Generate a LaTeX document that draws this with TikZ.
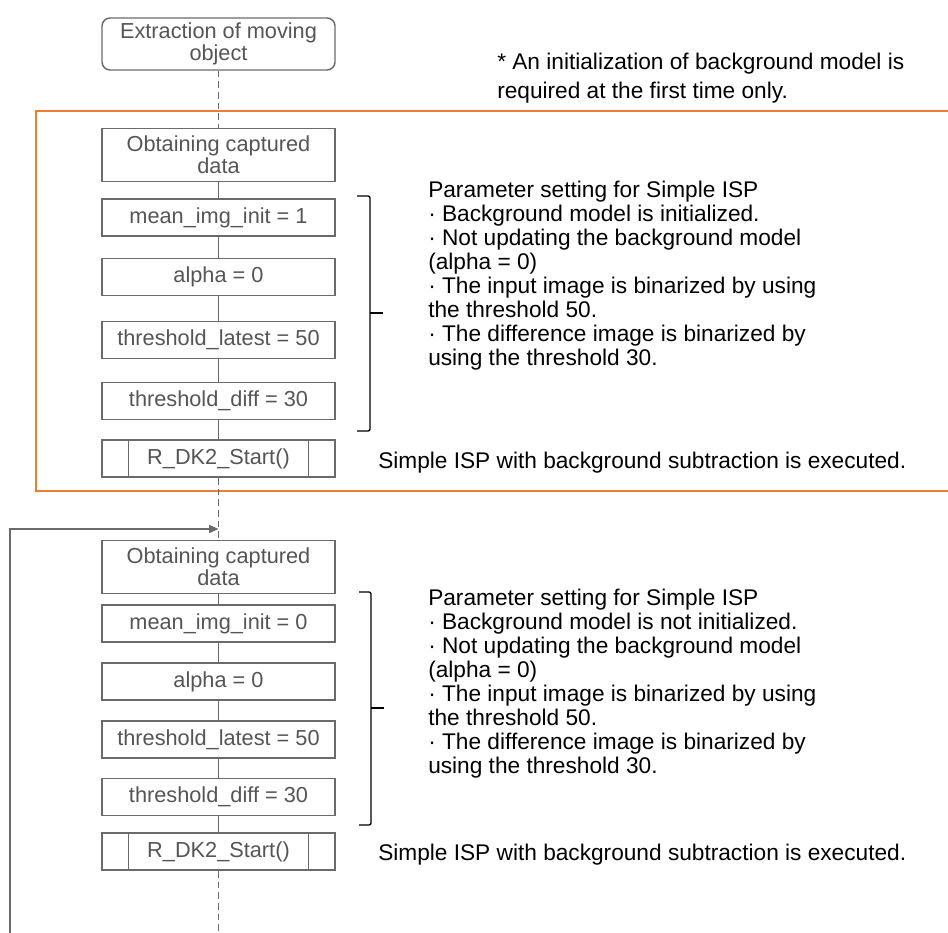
\documentclass[tikz,border=0pt]{standalone}
\usepackage{fontspec}
\setmainfont{Liberation Sans}
\usetikzlibrary{arrows.meta}
\definecolor{boxgray}{HTML}{6A6A6A}
\definecolor{txtgray}{HTML}{555555}
\definecolor{orangeline}{HTML}{ED7D31}
\tikzset{
  flowbox/.style={draw=boxgray, line width=1.1pt, fill=white, minimum width=174.75pt,
    minimum height=28pt, inner sep=0pt, text=txtgray,
    font=\fontsize{16.3}{16.5}\selectfont, align=center},
  twobox/.style={flowbox, minimum height=40pt},
  startbox/.style={flowbox, minimum height=39pt, rounded corners=6pt},
  flowline/.style={draw=boxgray, line width=1pt},
  dashline/.style={flowline, dash pattern=on 5pt off 3pt},
  loopline/.style={flowline, -{Triangle[length=7pt,width=6pt]}},
  bracketline/.style={draw=black, line width=1pt, rounded corners=1.5pt},
  frame/.style={draw=orangeline, line width=1.6pt},
  notetext/.style={anchor=north west, inner sep=0pt, align=left,
    font=\fontsize{17}{18}\selectfont, text=black},
  headnote/.style={notetext, font=\fontsize{17}{21.5}\selectfont}
}
\begin{document}
\begin{tikzpicture}[x=0.75pt,y=-0.75pt]
\useasboundingbox (0,0) rectangle (948,932);
\clip (0,0) rectangle (948,932);
\fill[white] (0,0) rectangle (948,932);

% orange frame (right side beyond the picture)
\draw[frame] (36,111) rectangle (990,491);

% first section
\node[startbox] (top) at (218.5,44) {Extraction of moving\\object};
\node[twobox] (obA) at (218.5,155) {Obtaining captured\\data};
\node[flowbox] (mA) at (218.5,217.5) {mean\_img\_init = 1};
\node[flowbox] (aA) at (218.5,277) {alpha = 0};
\node[flowbox] (tlA) at (218.5,340) {threshold\_latest = 50};
\node[flowbox] (tdA) at (218.5,401) {threshold\_diff = 30};
\node[flowbox] (rA) at (218.5,458.5) {R\_DK2\_Start()};
\draw[flowline] ([xshift=20.25pt]rA.north west) -- ([xshift=20.25pt]rA.south west);
\draw[flowline] ([xshift=-20.25pt]rA.north east) -- ([xshift=-20.25pt]rA.south east);

% second section
\node[twobox] (obB) at (218.5,567) {Obtaining captured\\data};
\node[flowbox] (mB) at (218.5,623.5) {mean\_img\_init = 0};
\node[flowbox] (aB) at (218.5,681.5) {alpha = 0};
\node[flowbox] (tlB) at (218.5,739.5) {threshold\_latest = 50};
\node[flowbox] (tdB) at (218.5,797) {threshold\_diff = 30};
\node[flowbox] (rB) at (218.5,851.5) {R\_DK2\_Start()};
\draw[flowline] ([xshift=20.25pt]rB.north west) -- ([xshift=20.25pt]rB.south west);
\draw[flowline] ([xshift=-20.25pt]rB.north east) -- ([xshift=-20.25pt]rB.south east);

% connectors
\draw[dashline] (top) -- (obA);
\draw[flowline] (obA) -- (mA);
\draw[flowline] (mA) -- (aA);
\draw[flowline] (aA) -- (tlA);
\draw[flowline] (tlA) -- (tdA);
\draw[flowline] (tdA) -- (rA);
\draw[dashline] (rA) -- (obB);
\draw[flowline] (obB) -- (mB);
\draw[flowline] (mB) -- (aB);
\draw[flowline] (aB) -- (tlB);
\draw[flowline] (tlB) -- (tdB);
\draw[flowline] (tdB) -- (rB);
\coordinate (outB) at (218.5,940);
\draw[dashline] (rB) -- (outB);
\coordinate (loopbot) at (10,940);
\coordinate (looptop) at (10,529);
\coordinate (loopin) at (218.5,529);
\draw[loopline] (loopbot) -- (looptop) -- (loopin);

% brackets
\coordinate (brA1) at (357,196);
\coordinate (brA2) at (370,196);
\coordinate (brA3) at (370,431);
\coordinate (brA4) at (357,431);
\coordinate (brAm) at (370,313);
\coordinate (brAt) at (383,313);
\draw[bracketline] (brA1) -- (brA2) -- (brA3) -- (brA4);
\draw[bracketline] (brAm) -- (brAt);
\coordinate (brB1) at (359,592);
\coordinate (brB2) at (371,592);
\coordinate (brB3) at (371,825);
\coordinate (brB4) at (359,825);
\coordinate (brBm) at (371,708);
\coordinate (brBt) at (384,708);
\draw[bracketline] (brB1) -- (brB2) -- (brB3) -- (brB4);
\draw[bracketline] (brBm) -- (brBt);

% texts
\node[headnote] (note) at (497,53) {* An initialization of background model is\\required at the first time only.};
\node[notetext] (parA) at (428,180.5) {Parameter setting for Simple ISP\\
· Background model is initialized.\\
· Not updating the background model\\
(alpha = 0)\\
· The input image is binarized by using\\
the threshold 50.\\
· The difference image is binarized by\\
using the threshold 30.};
\node[notetext] (execA) at (378,451.5) {Simple ISP with background subtraction is executed.};
\node[notetext] (parB) at (428,588.5) {Parameter setting for Simple ISP\\
· Background model is not initialized.\\
· Not updating the background model\\
(alpha = 0)\\
· The input image is binarized by using\\
the threshold 50.\\
· The difference image is binarized by\\
using the threshold 30.};
\node[notetext] (execB) at (378,843.5) {Simple ISP with background subtraction is executed.};
\end{tikzpicture}
\end{document}
